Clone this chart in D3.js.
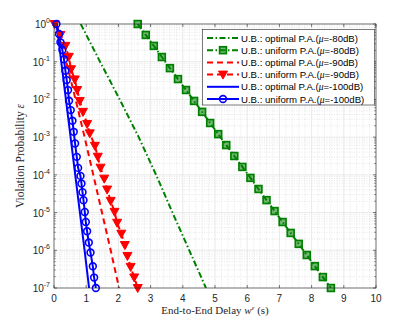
<!DOCTYPE html>
<html>
<head>
<meta charset="utf-8">
<script src="https://cdn.jsdelivr.net/npm/d3@7"></script>
<style>
  body { margin: 0; background: #fff; }
  text { font-family: "Liberation Sans", Arial, sans-serif; }
  .serif { font-family: "Liberation Serif", "DejaVu Serif", serif; }
</style>
</head>
<body>
<script>
var width = 415, height = 324;
var margin = {top: 24, right: 39, bottom: 36, left: 54};

// x = delay (s), y = log10 of violation probability
var optX80 = [0.83, 1.43, 2.04, 2.63, 3.17, 3.68, 4.20, 4.72],
    optY80 = [0, -1, -2, -3, -4, -5, -6, -7];
var uniX80 = [2.6, 2.85, 3.1, 3.35, 3.6, 3.85, 4.1, 4.35, 4.6, 4.85, 5.1, 5.35, 5.6,
              5.85, 6.1, 6.35, 6.6, 6.85, 7.1, 7.35, 7.6, 7.85, 8.1, 8.35, 8.6],
    uniY80 = [0, -0.29, -0.58, -0.875, -1.17, -1.46, -1.75, -2.04, -2.33, -2.625, -2.92, -3.21, -3.5,
              -3.79, -4.08, -4.375, -4.67, -4.96, -5.25, -5.54, -5.83, -6.125, -6.42, -6.71, -7];
var optX90 = [0.08, 0.38, 0.67, 0.95, 1.22, 1.49, 1.76, 2.02],
    optY90 = [0, -1, -2, -3, -4, -5, -6, -7];
var uniX90 = [0.02, 0.20, 0.355, 0.46, 0.53, 0.645, 0.72, 0.80, 0.90, 1.03, 1.11, 1.27, 1.36,
              1.445, 1.56, 1.65, 1.76, 1.88, 1.96, 2.09, 2.20, 2.28, 2.38, 2.49, 2.60],
    uniY90 = [0, -0.29, -0.58, -0.87, -1.20, -1.47, -1.75, -2.04, -2.33, -2.65, -2.90, -3.23, -3.52,
              -3.81, -4.10, -4.39, -4.69, -4.98, -5.27, -5.56, -5.86, -6.15, -6.44, -6.72, -7.0];
var optX100 = [0.08, 0.225, 0.37, 0.515, 0.66, 0.805, 0.95, 1.09],
    optY100 = [0, -1, -2, -3, -4, -5, -6, -7];
var uniX100 = [0.075, 0.156, 0.20, 0.26, 0.31, 0.355, 0.395, 0.436, 0.467, 0.52, 0.573, 0.613, 0.654,
               0.707, 0.748, 0.822, 0.853, 0.885, 0.916, 0.956, 0.988, 1.028, 1.081, 1.134, 1.206, 1.246, 1.30],
    uniY100 = [0, -0.265, -0.486, -0.69, -0.937, -1.24, -1.487, -1.752, -2.036, -2.283, -2.567, -2.859, -3.167,
               -3.523, -3.815, -4.027, -4.229, -4.46, -4.672, -4.983, -5.248, -5.495, -5.795, -6.06, -6.424, -6.724, -7.0];

var xTicks = [0, 1, 2, 3, 4, 5, 6, 7, 8, 9, 10],
    yTicks = [0, -1, -2, -3, -4, -5, -6, -7];

var legendLabels = [
  ["U.B.: optimal P.A.(", "=-80dB)"],
  ["U.B.: uniform P.A.(", "=-80dB)"],
  ["U.B.: optimal P.A.(", "=-90dB)"],
  ["U.B.: uniform P.A.(", "=-90dB)"],
  ["U.B.: optimal P.A.(", "=-100dB)"],
  ["U.B.: uniform P.A.(", "=-100dB)"]
];

var series = [
  {xs: optX80, ys: optY80, color: "#008000", dash: "6,2.5,1.5,2.5", marker: null},
  {xs: uniX80, ys: uniY80, color: "#008000", dash: "6,2.5,1.5,2.5", marker: "square"},
  {xs: optX90, ys: optY90, color: "#ff0000", dash: "6,4", marker: null},
  {xs: uniX90, ys: uniY90, color: "#ff0000", dash: "6,4", marker: "triangle"},
  {xs: optX100, ys: optY100, color: "#0000ff", dash: null, marker: null},
  {xs: uniX100, ys: uniY100, color: "#0000ff", dash: null, marker: "circle"}
];

var svg = d3.select("body").append("svg")
    .attr("width", width)
    .attr("height", height);

var pw = width - margin.left - margin.right,
    ph = height - margin.top - margin.bottom;

var x = d3.scaleLinear().domain([0, 10]).range([0, pw]);
var y = d3.scaleLinear().domain([-7, 0]).range([ph, 0]);

var g = svg.append("g").attr("transform", "translate(" + margin.left + "," + margin.top + ")");

g.append("rect").attr("width", pw).attr("height", ph).attr("fill", "#fff");

// minor grid
var minorX = d3.range(0, 10.001, 0.2).filter(function(v) { return Math.abs(v - Math.round(v)) > 1e-6; });
var minorY = [];
yTicks.slice(1).forEach(function(k) {
  for (var m = 2; m <= 9; m++) minorY.push(k + Math.log10(m));
});

g.selectAll(".minx").data(minorX).enter().append("line")
    .attr("x1", function(d) { return x(d); }).attr("x2", function(d) { return x(d); })
    .attr("y1", 0).attr("y2", ph)
    .attr("stroke", "#cfcfcf").attr("stroke-width", 0.5).attr("stroke-dasharray", "1,1.5");
g.selectAll(".miny").data(minorY).enter().append("line")
    .attr("y1", function(d) { return y(d); }).attr("y2", function(d) { return y(d); })
    .attr("x1", 0).attr("x2", pw)
    .attr("stroke", "#cfcfcf").attr("stroke-width", 0.5).attr("stroke-dasharray", "1,1.5");

// major grid
g.selectAll(".gx").data(xTicks).enter().append("line")
    .attr("x1", function(d) { return x(d); }).attr("x2", function(d) { return x(d); })
    .attr("y1", 0).attr("y2", ph)
    .attr("stroke", "#e3e3e3").attr("stroke-width", 0.8);
g.selectAll(".gy").data(yTicks).enter().append("line")
    .attr("y1", function(d) { return y(d); }).attr("y2", function(d) { return y(d); })
    .attr("x1", 0).attr("x2", pw)
    .attr("stroke", "#e3e3e3").attr("stroke-width", 0.8);

// curves
var clip = svg.append("defs").append("clipPath").attr("id", "clip");
clip.append("rect").attr("width", pw).attr("height", ph);

var plot = g.append("g").attr("clip-path", "url(#clip)");

var line = d3.line()
    .x(function(d) { return x(d[0]); })
    .y(function(d) { return y(d[1]); });

function pts(s) { return s.xs.map(function(v, i) { return [v, s.ys[i]]; }); }

function drawMarker(sel, type, color) {
  if (type === "square") {
    sel.append("rect").attr("x", -3.4).attr("y", -3.4).attr("width", 6.8).attr("height", 6.8)
        .attr("fill", "rgba(0,128,0,0.55)").attr("stroke", color).attr("stroke-width", 1.7);
  } else if (type === "triangle") {
    sel.append("path").attr("d", "M-4.5,-3.5L4.5,-3.5L0,4.5Z")
        .attr("fill", color).attr("stroke", color).attr("stroke-width", 1);
  } else if (type === "circle") {
    sel.append("circle").attr("r", 3.4)
        .attr("fill", "none").attr("stroke", color).attr("stroke-width", 1.6);
  }
}

series.forEach(function(s) {
  plot.append("path")
      .attr("d", line(pts(s)))
      .attr("fill", "none")
      .attr("stroke", s.color)
      .attr("stroke-width", 2)
      .attr("stroke-dasharray", s.dash);
  if (s.marker) {
    pts(s).forEach(function(p) {
      var m = g.append("g").attr("transform", "translate(" + x(p[0]) + "," + y(p[1]) + ")");
      drawMarker(m, s.marker, s.color);
    });
  }
});

// box and ticks
var axisColor = "#262626";
g.append("rect").attr("width", pw).attr("height", ph)
    .attr("fill", "none").attr("stroke", axisColor).attr("stroke-width", 0.6);

xTicks.forEach(function(t) {
  g.append("line").attr("x1", x(t)).attr("x2", x(t)).attr("y1", ph).attr("y2", ph - 3)
      .attr("stroke", axisColor).attr("stroke-width", 0.6);
  g.append("line").attr("x1", x(t)).attr("x2", x(t)).attr("y1", 0).attr("y2", 3)
      .attr("stroke", axisColor).attr("stroke-width", 0.6);
  g.append("text").attr("x", x(t)).attr("y", ph + 14)
      .attr("text-anchor", "middle").attr("font-size", 10).attr("fill", axisColor)
      .text(t);
});

yTicks.forEach(function(t) {
  g.append("line").attr("x1", 0).attr("x2", 3).attr("y1", y(t)).attr("y2", y(t))
      .attr("stroke", axisColor).attr("stroke-width", 0.6);
  g.append("line").attr("x1", pw).attr("x2", pw - 3).attr("y1", y(t)).attr("y2", y(t))
      .attr("stroke", axisColor).attr("stroke-width", 0.6);
  var tx = g.append("text").attr("x", -4).attr("y", y(t) + 4)
      .attr("text-anchor", "end").attr("font-size", 10).attr("fill", axisColor);
  tx.append("tspan").text("10");
  tx.append("tspan").attr("dy", -5).attr("font-size", 7).text(t);
});
minorY.forEach(function(t) {
  g.append("line").attr("x1", 0).attr("x2", 1.8).attr("y1", y(t)).attr("y2", y(t))
      .attr("stroke", axisColor).attr("stroke-width", 0.5);
  g.append("line").attr("x1", pw).attr("x2", pw - 1.8).attr("y1", y(t)).attr("y2", y(t))
      .attr("stroke", axisColor).attr("stroke-width", 0.5);
});

// axis labels
var xl = svg.append("text").attr("class", "serif")
    .attr("x", margin.left + pw / 2).attr("y", 314)
    .attr("text-anchor", "middle").attr("font-size", 11).attr("fill", axisColor);
xl.append("tspan").text("End-to-End Delay ");
xl.append("tspan").attr("font-style", "italic").text("w");
xl.append("tspan").attr("font-style", "italic").attr("font-size", 7).attr("dy", -4).text("\u03b5");
xl.append("tspan").attr("dy", 4).text(" (s)");

var yl = svg.append("text").attr("class", "serif")
    .attr("transform", "translate(24," + (margin.top + ph / 2) + ") rotate(-90)")
    .attr("text-anchor", "middle").attr("font-size", 11.5).attr("fill", axisColor);
yl.append("tspan").text("Violation Probability ");
yl.append("tspan").attr("font-style", "italic").text("\u03b5");

// legend
var lg = svg.append("g").attr("transform", "translate(202.5,29.5)");
lg.append("rect").attr("width", 172).attr("height", 75.5)
    .attr("fill", "#fff").attr("stroke", axisColor).attr("stroke-width", 0.6);

legendLabels.forEach(function(lab, i) {
  var s = series[i], ly = 8.5 + i * 12.2;
  lg.append("line").attr("x1", 4.5).attr("x2", 36.5).attr("y1", ly).attr("y2", ly)
      .attr("stroke", s.color).attr("stroke-width", 2).attr("stroke-dasharray", s.dash);
  if (s.marker) {
    var m = lg.append("g").attr("transform", "translate(20.5," + ly + ")");
    drawMarker(m, s.marker, s.color);
  }
  var t = lg.append("text").attr("x", 38.5).attr("y", ly + 3.5)
      .attr("font-size", 9.6).attr("fill", "#000");
  t.append("tspan").text(lab[0]);
  t.append("tspan").attr("class", "serif").attr("font-style", "italic").text("\u03bc");
  t.append("tspan").text(lab[1]);
});
</script>
</body>
</html>
